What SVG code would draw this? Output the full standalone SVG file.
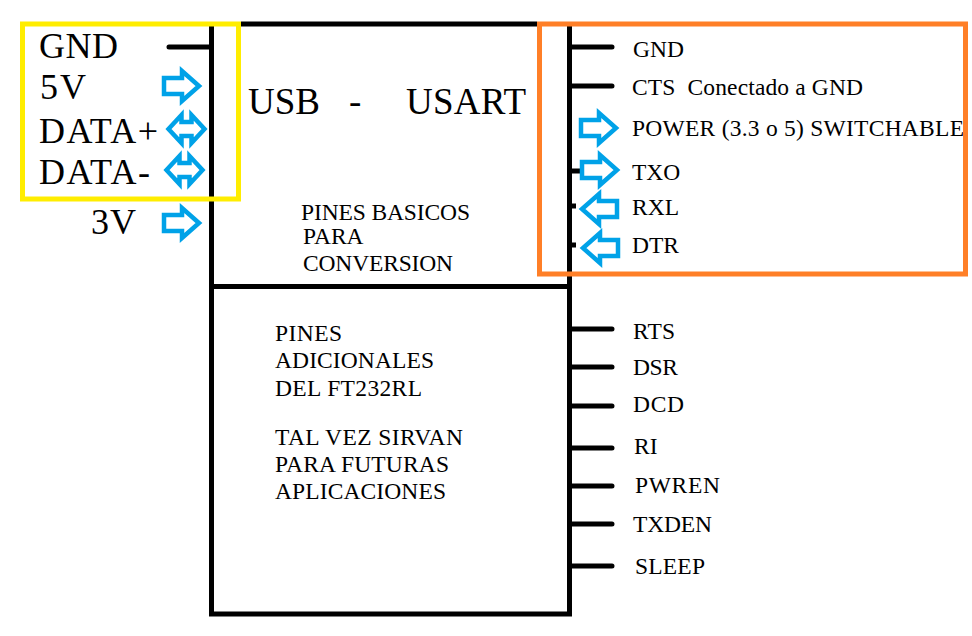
<svg xmlns="http://www.w3.org/2000/svg" width="972" height="636" viewBox="0 0 972 636">
<style>
text{font-family:"Liberation Serif","Times New Roman",serif;fill:#000}
.l{font-size:36px}.m{font-size:23.500px}.c{font-size:37px}
.b{stroke:#000;stroke-width:5;fill:none}
.p{stroke:#000;stroke-width:5;fill:none;stroke-linecap:round}
.a{stroke:#00a2e8;stroke-width:4.500;fill:none;stroke-linejoin:miter}
</style>
<defs>
<path id="r" d="M0,-8H18V-15L35,0L18,15V8H0Z"/>
<path id="l" d="M35,-8H17V-15L0,0L17,15V8H35Z"/>
<path id="d" d="M0,0L13,-14V-7H23V-14L36,0L23,14V7H13V14Z"/>
</defs>
<rect width="972" height="636" fill="#fff"/>
<g id="chip">
<path class="b" d="M211.500,26V614H569.500V26M241,24H537M211,286.500H570"/>
</g>
<g id="connectors">
<path class="p" d="M169,47H209M572,47H612M572,86H612M572,329H612M572,367H612M572,406H612M572,448H612M572,486H612M572,524H612M572,566H612"/>
<path class="b" d="M570,171H580M570,206H576M570,245H576"/>
<g class="a">
<use href="#r" x="164" y="86"/>
<use href="#d" x="168.500" y="129"/>
<use href="#d" x="166.500" y="170"/>
<use href="#r" x="164" y="223"/>
<use href="#r" x="581" y="128"/>
<use href="#r" x="582" y="170"/>
<use href="#l" x="582" y="209"/>
<use href="#l" x="583" y="248"/>
</g>
</g>
<g id="left-pins">
<text class="l" x="39" y="58" textLength="79">GND</text>
<text class="l" x="40" y="99" textLength="46">5V</text>
<text class="l" x="39" y="143" textLength="119">DATA+</text>
<text class="l" x="39" y="184" textLength="111">DATA-</text>
<text class="l" x="91" y="234" textLength="45">3V</text>
</g>
<g id="titles">
<text class="c" x="248" y="114">USB</text>
<text class="c" x="349" y="114">-</text>
<text class="c" x="406" y="114" textLength="120">USART</text>
<text class="m" x="301" y="220" textLength="169">PINES BASICOS</text>
<text class="m" x="303" y="244">PARA</text>
<text class="m" x="303" y="271" textLength="150">CONVERSION</text>
<text class="m" x="275" y="341" textLength="67">PINES</text>
<text class="m" x="275" y="368" textLength="159">ADICIONALES</text>
<text class="m" x="275" y="396" textLength="147">DEL FT232RL</text>
<text class="m" x="275" y="445" textLength="188">TAL VEZ SIRVAN</text>
<text class="m" x="275" y="472" textLength="174">PARA FUTURAS</text>
<text class="m" x="275" y="499" textLength="171">APLICACIONES</text>
</g>
<g id="right-pins">
<text class="m" x="633" y="57" textLength="51">GND</text>
<text class="m" x="632" y="95" xml:space="preserve" textLength="231">CTS  Conectado a GND</text>
<text class="m" x="632" y="136" textLength="332">POWER (3.3 o 5) SWITCHABLE</text>
<text class="m" x="632" y="180">TXO</text>
<text class="m" x="632" y="215">RXL</text>
<text class="m" x="632" y="253">DTR</text>
<text class="m" x="633" y="339" textLength="42">RTS</text>
<text class="m" x="633" y="375" textLength="45">DSR</text>
<text class="m" x="633" y="412" textLength="51">DCD</text>
<text class="m" x="634" y="454">RI</text>
<text class="m" x="635" y="493" textLength="85">PWREN</text>
<text class="m" x="633" y="532" textLength="79">TXDEN</text>
<text class="m" x="635" y="574" textLength="70">SLEEP</text>
</g>
<g id="highlight-yellow"><rect x="22.500" y="24" width="216" height="175" fill="none" stroke="#ffed00" stroke-width="5"/></g>
<g id="highlight-orange"><rect x="539.500" y="24" width="426" height="250" fill="none" stroke="#ff7f27" stroke-width="5"/></g>
</svg>
